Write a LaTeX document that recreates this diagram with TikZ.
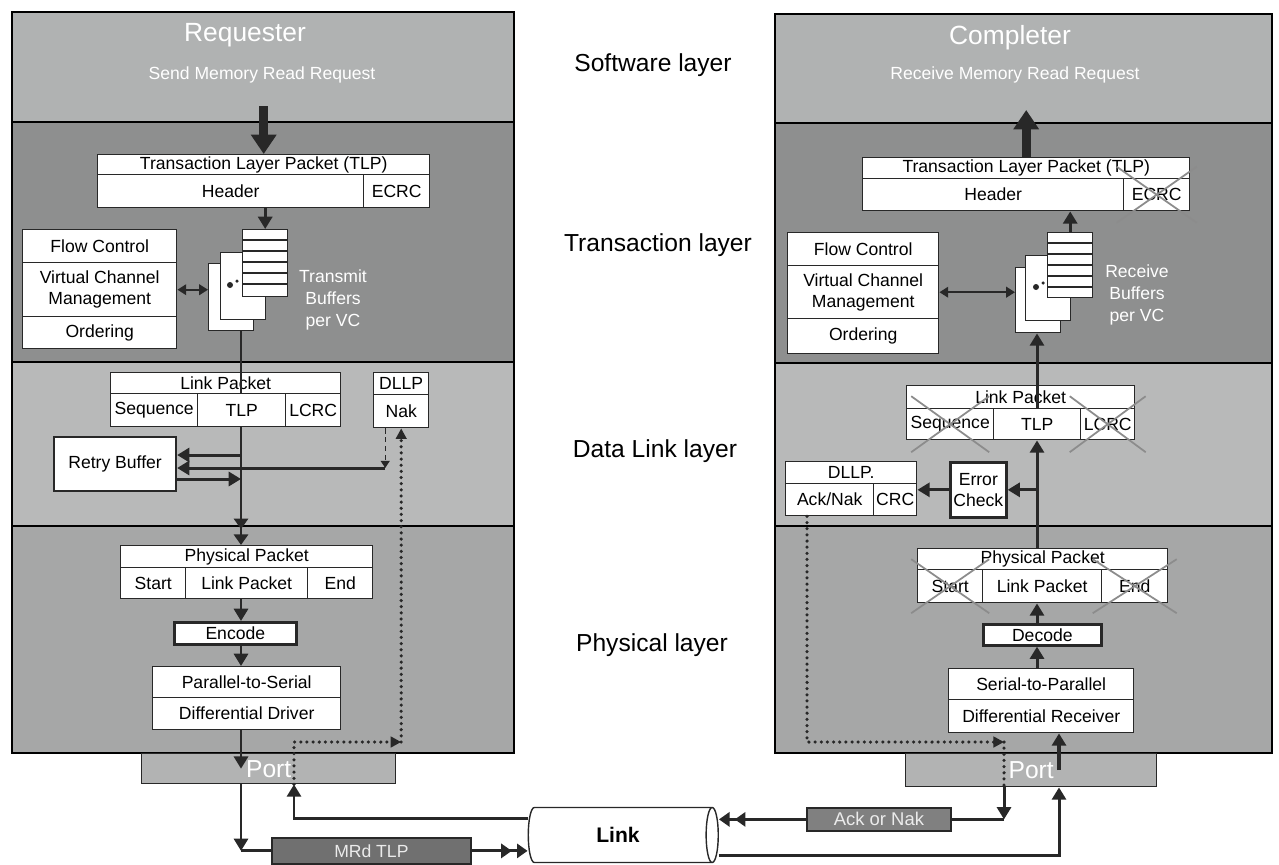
\documentclass[tikz,border=0pt]{standalone}
\usepackage{fontspec}
\setmainfont{Liberation Sans}
\usetikzlibrary{arrows.meta,shapes.geometric}
\definecolor{swfill}{RGB}{176,178,178}
\definecolor{trfill}{RGB}{142,143,143}
\definecolor{dlfill}{RGB}{184,185,185}
\definecolor{phfill}{RGB}{166,167,167}
\definecolor{portfill}{RGB}{178,179,179}
\definecolor{pktfill}{RGB}{112,112,112}
\definecolor{ackfill}{RGB}{128,128,128}
\definecolor{xgray}{RGB}{140,140,140}
\definecolor{ink}{RGB}{40,40,40}

\begin{document}
\begin{tikzpicture}[x=0.2mm,y=-0.2mm,
  cell/.style={draw=ink,fill=white,line width=0.8pt,inner sep=0pt,anchor=north west,
    align=center,font=\fontsize{10}{12}\selectfont},
  port/.style={cell,fill=portfill,text=white,font=\fontsize{14}{16}\selectfont},
  pkt/.style={cell,line width=1pt,text=black!8},
  lbl/.style={font=\fontsize{14}{16}\selectfont},
  wht/.style={text=white,align=center,font=\fontsize{10}{12.5}\selectfont},
  arr/.style={draw=ink,line width=1.7pt,-{Triangle[length=7pt,width=8pt]}},
  bigarr/.style={draw=ink,line width=5pt,-{Triangle[length=11pt,width=14pt]}},
  dbl/.style={draw=ink,line width=1.7pt,-{Triangle[length=6pt,width=8pt,sep=3pt]Triangle[length=6pt,width=8pt]}},
  both/.style={draw=ink,line width=1.1pt,{Triangle[length=5pt,width=6pt]}-{Triangle[length=5pt,width=6pt]}},
  dots/.style={draw=ink,line width=2pt,line cap=round,dash pattern=on 0pt off 3.5pt},
  xx/.style={draw=xgray,line width=1pt}]
\useasboundingbox (0,0) rectangle (1279,864);
% layer bands
\fill[swfill] (12,12) rectangle (514,122);  \fill[swfill] (775,14) rectangle (1272,123);
\fill[trfill] (12,122) rectangle (514,362); \fill[trfill] (775,123) rectangle (1272,363);
\fill[dlfill] (12,362) rectangle (514,526); \fill[dlfill] (775,363) rectangle (1272,526);
\fill[phfill] (12,526) rectangle (514,753); \fill[phfill] (775,526) rectangle (1272,753);
\draw[line width=1.4pt] (12,12) rectangle (514,753) (12,122) -- (514,122) (12,362) -- (514,362) (12,526) -- (514,526);
\draw[line width=1.4pt] (775,14) rectangle (1272,753) (775,123) -- (1272,123) (775,363) -- (1272,363) (775,526) -- (1272,526);
\node[lbl] (swl) at (653,65) {Software layer};
\node[lbl] (trl) at (658,245) {Transaction layer};
\node[lbl] (dll) at (655,451) {Data Link layer};
\node[lbl] (phl) at (652,645) {Physical layer};

% requester
\node[wht,font=\fontsize{15}{17}\selectfont] (req) at (245,35) {Requester};
\node[wht] (reqsub) at (262,75) {Send Memory Read Request};
\node[cell,minimum width=66.4mm,minimum height=4mm] (tlpL) at (97,154) {Transaction Layer Packet (TLP)};
\node[cell,minimum width=53.2mm,minimum height=6.6mm] (hdrL) at (97,174) {Header};
\node[cell,minimum width=13.2mm,minimum height=6.6mm] (ecrcL) at (363,174) {ECRC};
\node[cell,minimum width=30.8mm,minimum height=6.6mm] (fcL) at (22,229) {Flow Control};
\node[cell,minimum width=30.8mm,minimum height=10.8mm] (vcmL) at (22,262) {Virtual Channel\\Management};
\node[cell,minimum width=30.8mm,minimum height=6.4mm] (ordL) at (22,316) {Ordering};
\foreach \n/\x/\y in {bufL3/208/263,bufL2/220/252,bufL1/242/229}
  \node[cell,minimum width=9mm,minimum height=13.4mm] (\n) at (\x,\y) {};
\foreach \k in {1,...,5}
  \draw[ink,line width=0.8pt] ([yshift=-\k*2.2mm]bufL1.north west) -- ([yshift=-\k*2.2mm]bufL1.north east);
\fill[ink] ([shift={(10,33)}]bufL2.north west) circle (0.6mm) ([shift={(17,29)}]bufL2.north west) circle (0.35mm);
\node[wht] (txbuf) at (333,300) {Transmit\\Buffers\\per VC};
\node[cell,minimum width=46mm,minimum height=4.2mm] (lpL) at (110,372) {Link Packet};
\node[cell,minimum width=17.4mm,minimum height=6.6mm] (seqL) at (110,393) {Sequence};
\node[cell,minimum width=17.6mm,minimum height=6.6mm] (tlpcL) at (197,393) {TLP};
\node[cell,minimum width=11mm,minimum height=6.6mm] (lcrcL) at (285,393) {LCRC};
\node[cell,minimum width=11mm,minimum height=4.4mm] (dllpL) at (373,372) {DLLP};
\node[cell,minimum width=11mm,minimum height=6.6mm] (nakL) at (373,394) {Nak};
\node[cell,minimum width=24.4mm,minimum height=10.8mm,line width=1.2pt] (retry) at (53,436) {Retry Buffer};
\node[cell,minimum width=50.4mm,minimum height=4.4mm] (ppL) at (120,545) {Physical Packet};
\node[cell,minimum width=13mm,minimum height=6.2mm] (startL) at (120,567) {Start};
\node[cell,minimum width=24.4mm,minimum height=6.2mm] (lpkL) at (185,567) {Link Packet};
\node[cell,minimum width=13mm,minimum height=6.2mm] (endL) at (307,567) {End};
\node[cell,minimum width=24.4mm,minimum height=4.4mm,line width=1.5pt] (encL) at (173,621) {Encode};
\node[cell,minimum width=37.6mm,minimum height=6.2mm] (p2s) at (152,666) {Parallel-to-Serial};
\node[cell,minimum width=37.6mm,minimum height=6.4mm] (ddrv) at (152,697) {Differential Driver};
\node[port,minimum width=50.8mm,minimum height=6mm] (portL) at (141,753) {Port};
\node[pkt,fill=pktfill,minimum width=39.8mm,minimum height=5.2mm] (mrd) at (271,837) {MRd TLP};

% link
\node[cylinder,shape border rotate=0,aspect=0.45,draw=ink,fill=white,line width=0.8pt,
  minimum width=11mm,minimum height=38mm,font=\bfseries\fontsize{12}{14}\selectfont] (cyl) at (618,835) {Link};

% completer
\node[wht,font=\fontsize{15}{17}\selectfont] (cmp) at (1010,38) {Completer};
\node[wht] (cmpsub) at (1015,75) {Receive Memory Read Request};
\node[cell,minimum width=65.4mm,minimum height=4.2mm] (tlpR) at (862,157) {Transaction Layer Packet (TLP)};
\node[cell,minimum width=52.2mm,minimum height=6.4mm] (hdrR) at (862,178) {Header};
\node[cell,minimum width=13.2mm,minimum height=6.4mm] (ecrcR) at (1123,178) {ECRC};
\node[cell,minimum width=30.2mm,minimum height=6.6mm] (fcR) at (787,232) {Flow Control};
\node[cell,minimum width=30.2mm,minimum height=10.6mm] (vcmR) at (787,265) {Virtual Channel\\Management};
\node[cell,minimum width=30.2mm,minimum height=7mm] (ordR) at (787,318) {Ordering};
\foreach \n/\x/\y in {bufR3/1015/267,bufR2/1025/255,bufR1/1047/232}
  \node[cell,minimum width=9mm,minimum height=13mm] (\n) at (\x,\y) {};
\foreach \k in {1,...,5}
  \draw[ink,line width=0.8pt] ([yshift=-\k*2.2mm]bufR1.north west) -- ([yshift=-\k*2.2mm]bufR1.north east);
\fill[ink] ([shift={(11,32)}]bufR2.north west) circle (0.6mm) ([shift={(18,28)}]bufR2.north west) circle (0.35mm);
\node[wht] (rxbuf) at (1137,295) {Receive\\Buffers\\per VC};
\node[cell,minimum width=45.6mm,minimum height=4.6mm] (lpR) at (906,385) {Link Packet};
\node[cell,minimum width=17.4mm,minimum height=6.2mm] (seqR) at (906,408) {Sequence};
\node[cell,minimum width=17.4mm,minimum height=6.2mm] (tlpcR) at (993,408) {TLP};
\node[cell,minimum width=10.8mm,minimum height=6.2mm] (lcrcR) at (1080,408) {LCRC};
\node[cell,minimum width=26.2mm,minimum height=4.4mm] (dllpR) at (785,461) {DLLP.};
\node[cell,minimum width=17.6mm,minimum height=6.4mm] (acknak) at (785,483) {Ack/Nak};
\node[cell,minimum width=8.6mm,minimum height=6.4mm] (crcR) at (873,483) {CRC};
\node[cell,minimum width=11.2mm,minimum height=11mm,line width=1.5pt] (errchk) at (949,461) {Error\\Check};
\node[cell,minimum width=50mm,minimum height=4.2mm] (ppR) at (917,548) {Physical Packet};
\node[cell,minimum width=13mm,minimum height=6.6mm] (startR) at (917,569) {Start};
\node[cell,minimum width=23.8mm,minimum height=6.6mm] (lpkR) at (982,569) {Link Packet};
\node[cell,minimum width=13.2mm,minimum height=6.6mm] (endR) at (1101,569) {End};
\node[cell,minimum width=23.6mm,minimum height=4.2mm,line width=1.5pt] (decR) at (982,623) {Decode};
\node[cell,minimum width=37mm,minimum height=6.2mm] (s2p) at (948,668) {Serial-to-Parallel};
\node[cell,minimum width=37mm,minimum height=6.6mm] (drcv) at (948,699) {Differential Receiver};
\node[port,minimum width=50.2mm,minimum height=6.6mm] (portR) at (905,753) {Port};
\node[pkt,fill=ackfill,minimum width=28.8mm,minimum height=4.6mm,font=\fontsize{10.5}{12}\selectfont] (ack) at (806,807) {Ack or Nak};
\foreach \n/\a/\b in {ecrcR/40/28,seqR/39/28,lcrcR/38/28,startR/39/27,endR/42/27}
  \draw[xx] ([shift={(-\a,-\b)}]\n.center) -- ([shift={(\a,\b)}]\n.center)
            ([shift={(-\a,\b)}]\n.center) -- ([shift={(\a,-\b)}]\n.center);

% columns and rows for the connectors
\coordinate (colL) at (241,0); \coordinate (retL) at (294,0);
\coordinate (colR) at (1037,0); \coordinate (inR) at (1059,0);
\coordinate (ackR) at (1004,0); \coordinate (akcol) at (807,0);
\coordinate (dotrow) at (0,742); \coordinate (toprow) at (0,818); \coordinate (lowrow) at (0,855);
\coordinate (rA) at ([yshift=-3.8mm]retry.north east);
\coordinate (rB) at ([yshift=-6.4mm]retry.north east);
\coordinate (rC) at ([yshift=-8.6mm]retry.north east);
\coordinate (nk) at ([xshift=-3.2mm]nakL.south);

% requester flow
\draw[bigarr] ([yshift=9.6mm]tlpL.north) -- (tlpL.north);
\draw[arr] (bufL1.north |- hdrL.south) -- (bufL1.north);
\draw[both] (vcmL.east) -- (vcmL.east -| bufL3.west);
\draw[ink,line width=1.7pt] (colL |- bufL3.south) -- (colL |- tlpcL.north);
\draw[dbl] (colL |- tlpcL.south) -- (colL |- ppL.north);
\draw[arr] (colL |- rA) -- (rA);
\draw[ink,line width=0.8pt,densely dashed,-{Triangle[length=4pt,width=5pt]}] (nk) -- (nk |- rB);
\draw[arr] (nk |- rB) -- (rB);
\draw[arr] (rC) -- (colL |- rC);
\draw[arr] (colL |- lpkL.south) -- (colL |- encL.north);
\draw[arr] (colL |- encL.south) -- (colL |- p2s.north);
\draw[arr] (colL |- ddrv.south) -- (colL |- portL.center);
\draw[arr] (colL |- portL.south) -- (colL |- mrd.west);
\draw[ink,line width=1.7pt] (colL |- mrd.west) -- (mrd.west);
\draw[dbl] (mrd.east) -- (mrd.east -| cyl.west);
\draw[arr] (cyl.west |- toprow) -| (retL |- portL.south);
\draw[dots,-{Triangle[length=6pt,width=6pt]}] (retL |- portL.south) -- (retL |- dotrow) -- (nakL.south |- dotrow);
\draw[dots,-{Triangle[length=6pt,width=6pt]}] (nakL.south |- dotrow) -- (nakL.south);

% completer flow
\draw[bigarr] (tlpR.north) -- ([yshift=9.4mm]tlpR.north);
\draw[arr] (bufR1.north) -- (bufR1.north |- hdrR.south);
\draw[both] (vcmR.east) -- (vcmR.east -| bufR3.west);
\draw[arr] (colR |- tlpcR.north) -- (colR |- bufR3.south);
\draw[arr] (colR |- ppR.north) -- (colR |- tlpcR.south);
\draw[arr] (colR |- errchk.east) -- (errchk.east);
\draw[arr] (errchk.west) -- (errchk.west -| crcR.east);
\draw[arr] (colR |- decR.north) -- (colR |- lpkR.south);
\draw[arr] (colR |- s2p.north) -- (colR |- decR.south);
\draw[arr,line width=2.5pt] (inR |- portR.center) -- (inR |- drcv.south);
\draw[arr] (cyl.east |- lowrow) -| (inR |- portR.south);
\draw[dots,-{Triangle[length=6pt,width=6pt]}] (akcol |- acknak.south) -- (akcol |- dotrow) -- (ackR |- dotrow);
\draw[dots] (ackR |- dotrow) -- (ackR |- portR.south);
\draw[arr] (ackR |- portR.south) -- (ackR |- ack.east);
\draw[ink,line width=1.7pt] (ackR |- ack.east) -- (ack.east);
\draw[dbl] (ack.west) -- (ack.west -| cyl.east);
\end{tikzpicture}
\end{document}
